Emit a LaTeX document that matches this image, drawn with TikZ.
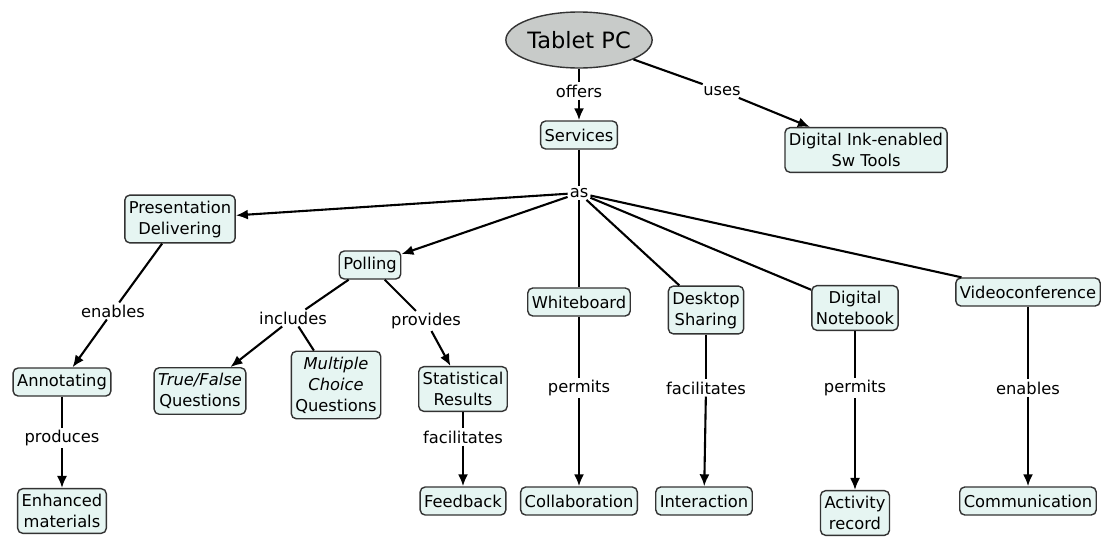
\documentclass[tikz,border=0pt]{standalone}
\usepackage{fontspec}
\setmainfont{DejaVu Sans}
\usetikzlibrary{shapes.geometric,arrows.meta}
\definecolor{boxfill}{HTML}{E6F5F2}
\definecolor{boxline}{HTML}{333333}
\definecolor{ovalfill}{HTML}{C8CBC9}

\begin{document}
\begin{tikzpicture}
  [x=1pt,y=-1pt,
   every node/.style={font=\fontsize{16.3}{21}\selectfont,align=center},
   concept/.style={draw=boxline,line width=1.4pt,fill=boxfill,rounded corners=5pt,
     inner xsep=4pt,inner ysep=5.5pt,minimum height=28pt},
   link/.style={inner sep=2pt},
   arrowline/.style={-{Latex[length=12pt,width=10pt]}}]
  \useasboundingbox (0,0) rectangle (1103,541);
  % top
  \node[ellipse,draw=boxline,line width=1.4pt,fill=ovalfill,minimum width=126pt,
    minimum height=56pt,inner sep=0pt,font=\fontsize{22.5}{24}\selectfont] (tablet) at (579,40) {Tablet PC};
  \node[link] (offers) at (579,91) {offers};
  \node[concept] (services) at (579,135) {Services};
  \node[link] (uses) at (722,91) {uses};
  \node[concept] (ink) at (866,150) {Digital Ink-enabled\\Sw Tools};
  \node[link] (as) at (579,193) {as};
  % services
  \node[concept] (pres) at (180,219) {Presentation\\Delivering};
  \node[concept] (polling) at (370,265) {Polling};
  \node[concept] (white) at (579,302) {Whiteboard};
  \node[concept] (desk) at (706,310) {Desktop\\Sharing};
  \node[concept] (notebook) at (855,308) {Digital\\Notebook};
  \node[concept] (video) at (1028,292) {Videoconference};
  % lower level
  \node[link] (enables1) at (113,311) {enables};
  \node[concept] (annot) at (62,382) {Annotating};
  \node[link] (produces) at (62,438) {produces};
  \node[concept] (enhanced) at (62,511) {Enhanced\\materials};
  \node[link] (includes) at (293,318) {includes};
  \node[concept] (truefalse) at (200,391) {\textit{True/False}\\Questions};
  \node[concept] (multi) at (336,385) {\textit{Multiple}\\\textit{Choice}\\Questions};
  \node[link] (provides) at (426,321) {provides};
  \node[concept] (stats) at (463,389) {Statistical\\Results};
  \node[link] (facil1) at (463,437) {facilitates};
  \node[concept] (feedback) at (463,501) {Feedback};
  \node[link] (permits1) at (579,388) {permits};
  \node[concept] (collab) at (579,501) {Collaboration};
  \node[link] (facil2) at (706,388) {facilitates};
  \node[concept] (interact) at (704,501) {Interaction};
  \node[link] (permits2) at (855,388) {permits};
  \node[concept] (activity) at (855,513) {Activity\\record};
  \node[link] (enables2) at (1028,388) {enables};
  \node[concept] (comm) at (1028,501) {Communication};
  \foreach \from/\to in {tablet/offers,tablet/uses,services/as,as/white,as/desk,as/notebook,as/video,
    pres/enables1,annot/produces,polling/includes,includes/multi,polling/provides,stats/facil1,
    white/permits1,desk/facil2,notebook/permits2,video/enables2}
    \draw[line width=2.1pt] (\from) -- (\to);
  \foreach \from/\to in {offers/services,uses/ink,as/pres,as/polling,enables1/annot,produces/enhanced,
    includes/truefalse,provides/stats,facil1/feedback,permits1/collab,facil2/interact,
    permits2/activity,enables2/comm}
    \draw[line width=2.1pt,arrowline] (\from) -- (\to);
\end{tikzpicture}
\end{document}
